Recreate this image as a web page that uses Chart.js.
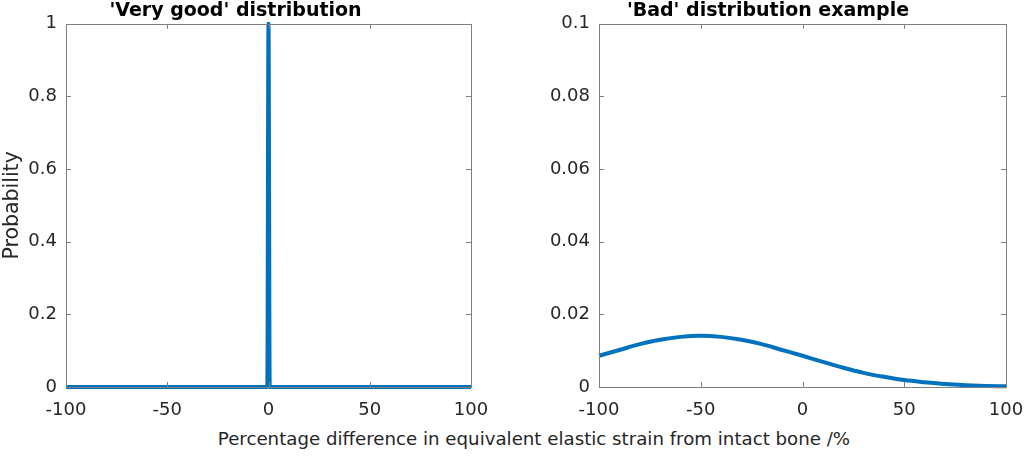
<!DOCTYPE html>
<html>
<head>
<meta charset="utf-8">
<script src="https://cdn.jsdelivr.net/npm/chart.js@4/dist/chart.umd.min.js"></script>
<style>
  body { margin: 0; background: #fff; width: 1024px; height: 456px; position: relative; overflow: hidden; font-family: "DejaVu Sans", sans-serif; }
  .box { position: absolute; top: 0; height: 420px; }
  #leftBox { left: 0; width: 490px; }
  #rightBox { left: 530px; width: 494px; }
  #xlabel { position: absolute; left: 0; width: 1068px; top: 428px; text-align: center; font-size: 18.2px; color: #262626; }
</style>
</head>
<body>
<div class="box" id="leftBox"><canvas id="goodChart"></canvas></div>
<div class="box" id="rightBox"><canvas id="badChart"></canvas></div>
<div id="xlabel">Percentage difference in equivalent elastic strain from intact bone /%</div>
<script>
// --- data ---
const goodX = [-100, -0.6, 0, 0.6, 100];
const goodY = [0, 0, 1, 0, 0];

const badX = [-100, -90, -80, -70, -60, -50, -40, -30, -20, -10, 0, 10, 20, 30, 40, 50, 60, 70, 80, 90, 100];
const badY = [0.0086, 0.0102, 0.0118, 0.0130, 0.0138, 0.0141, 0.0138, 0.0130, 0.0118, 0.0102, 0.0086,
              0.0069, 0.0053, 0.0039, 0.0028, 0.0019, 0.0013, 0.0008, 0.0005, 0.0003, 0.0002];

const xTicks = [-100, -50, 0, 50, 100];
const goodYTicks = [0, 0.2, 0.4, 0.6, 0.8, 1];
const badYTicks = [0, 0.02, 0.04, 0.06, 0.08, 0.1];

const lineBlue = '#0072BD';
const textColor = '#262626';
const fontName = '"DejaVu Sans", sans-serif';

function toPoints(xs, ys) {
    return xs.map((x, i) => ({ x: x, y: ys[i] }));
}

// box round the plot area with inward ticks, like a matlab axes
const boxPlugin = {
    id: 'matlabBox',
    afterDraw(chart) {
        const ctx = chart.ctx;
        const a = chart.chartArea;
        const xs = chart.scales.x, ys = chart.scales.y;
        ctx.save();
        ctx.strokeStyle = '#7f7f7f';
        ctx.lineWidth = 1;
        ctx.strokeRect(Math.round(a.left) + 0.5, Math.round(a.top) + 0.5, Math.round(a.right - a.left), Math.round(a.bottom - a.top));
        ctx.beginPath();
        xs.ticks.forEach(t => {
            const px = Math.round(xs.getPixelForValue(t.value)) + 0.5;
            ctx.moveTo(px, a.bottom); ctx.lineTo(px, a.bottom - 5);
            ctx.moveTo(px, a.top); ctx.lineTo(px, a.top + 5);
        });
        ys.ticks.forEach(t => {
            const py = Math.round(ys.getPixelForValue(t.value)) + 0.5;
            ctx.moveTo(a.left, py); ctx.lineTo(a.left + 5, py);
            ctx.moveTo(a.right, py); ctx.lineTo(a.right - 5, py);
        });
        ctx.stroke();
        ctx.restore();
    }
};

function makeChart(id, xs, ys, yTicks, yMax, title, yTitle, yWidth, rightPad) {
    const ctx = document.getElementById(id).getContext('2d');
    return new Chart(ctx, {
        type: 'line',
        data: {
            datasets: [{
                data: toPoints(xs, ys),
                borderColor: lineBlue,
                borderWidth: 4,
                pointRadius: 0,
                tension: 0.3,
                cubicInterpolationMode: 'monotone',
                clip: false
            }]
        },
        options: {
            responsive: true,
            maintainAspectRatio: false,
            animation: false,
            layout: { padding: { left: 0, right: rightPad, top: 0, bottom: 0 } },
            plugins: {
                legend: { display: false },
                tooltip: { enabled: false },
                title: {
                    display: true,
                    text: title,
                    color: '#000',
                    font: { family: fontName, size: 19, weight: 'bold', lineHeight: 1.2 },
                    padding: { top: 0, bottom: 1 }
                }
            },
            scales: {
                x: {
                    type: 'linear',
                    min: -100,
                    max: 100,
                    afterBuildTicks: s => { s.ticks = xTicks.map(v => ({ value: v })); },
                    afterFit: s => { s.height = 33; s.paddingLeft = 0; s.paddingRight = 0; },
                    grid: { display: false, drawTicks: false },
                    border: { display: false },
                    ticks: {
                        color: textColor,
                        padding: 13,
                        maxRotation: 0,
                        font: { family: fontName, size: 18 }
                    }
                },
                y: {
                    type: 'linear',
                    min: 0,
                    max: yMax,
                    afterBuildTicks: s => { s.ticks = yTicks.map(v => ({ value: v })); },
                    afterFit: s => { s.width = yWidth; },
                    grid: { display: false, drawTicks: false },
                    border: { display: false },
                    title: {
                        display: !!yTitle,
                        text: yTitle,
                        color: textColor,
                        font: { family: fontName, size: 20.5 },
                        padding: { top: 0, bottom: 0 }
                    },
                    ticks: {
                        color: textColor,
                        padding: 9,
                        font: { family: fontName, size: 18 },
                        callback: v => String(+v.toFixed(3))
                    }
                }
            }
        },
        plugins: [boxPlugin]
    });
}

makeChart('goodChart', goodX, goodY, goodYTicks, 1, "'Very good' distribution", 'Probability', 66, 19);
makeChart('badChart', badX, badY, badYTicks, 0.1, "'Bad' distribution example", '', 69, 18);
</script>
</body>
</html>
